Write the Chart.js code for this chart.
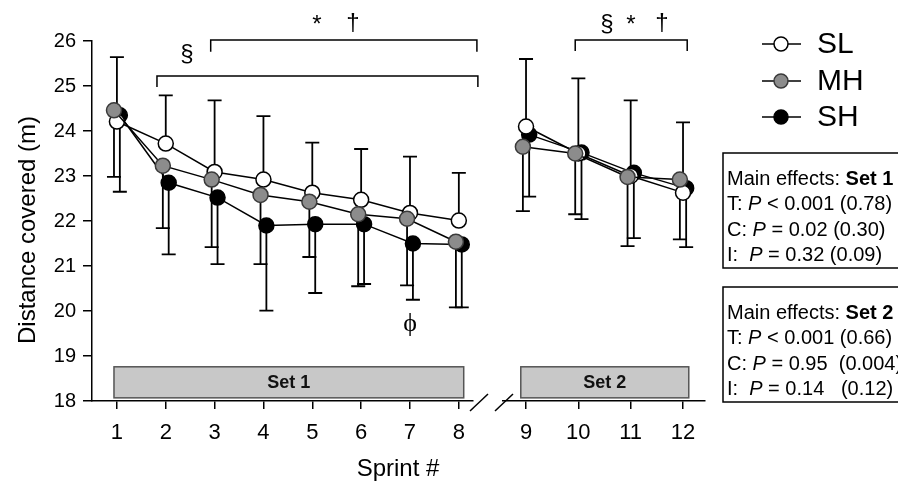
<!DOCTYPE html>
<html>
<head>
<meta charset="utf-8">
<script src="https://cdn.jsdelivr.net/npm/chart.js@4.4.1/dist/chart.umd.min.js"></script>
<style>
  body { margin: 0; background: #fff; }
  #wrap { position: relative; width: 898px; height: 483px; }
  #wrap canvas { position: absolute; left: 0; top: 0; }
</style>
</head>
<body>
<div id="wrap">
  <canvas id="set1Chart" width="898" height="483"></canvas>
  <canvas id="set2Chart" width="898" height="483"></canvas>
</div>
<script>
// Sprint numbers (set 1 = 1-8, set 2 = 9-12)
const sprints = [1, 2, 3, 4, 5, 6, 7, 8, 9, 10, 11, 12];
const yTicks = [18, 19, 20, 21, 22, 23, 24, 25, 26];

// means and SD (m)
const slMean = [24.21, 23.72, 23.09, 22.92, 22.63, 22.47, 22.18, 22.01, 24.10, 23.50, 23.00, 22.63];
const slSD   = [1.43, 1.07, 1.59, 1.41, 1.11, 1.13, 1.25, 1.06, 1.50, 1.67, 1.68, 1.56];
const mhMean = [24.46, 23.23, 22.92, 22.58, 22.43, 22.15, 22.05, 21.54, 23.65, 23.50, 22.98, 22.92];
const mhSD   = [1.48, 1.39, 1.50, 1.54, 1.23, 1.60, 1.48, 1.46, 1.43, 1.35, 1.54, 1.33];
const shMean = [24.35, 22.85, 22.52, 21.90, 21.93, 21.93, 21.50, 21.48, 23.92, 23.52, 23.07, 22.73];
const shSD   = [1.70, 1.59, 1.48, 1.89, 1.53, 1.33, 1.25, 1.40, 1.38, 1.48, 1.45, 1.31];

const effects1 = ["T: |P| < 0.001 (0.78)", "C: |P| = 0.02 (0.30)", "I:  |P| = 0.32 (0.09)"];
const effects2 = ["T: |P| < 0.001 (0.66)", "C: |P| = 0.95  (0.004)", "I:  |P| = 0.14   (0.12)"];

const FONT = "'Liberation Sans', Arial, sans-serif";
Chart.defaults.font.family = FONT;
Chart.defaults.color = "#000";

// order = drawing order (first on top)
const series = [
    { name: "MH", mean: mhMean, sd: mhSD, dir: -1, fill: "#8c8c8c", border: "#3a3a3a", shift: -0.06 },
    { name: "SL", mean: slMean, sd: slSD, dir: 1, fill: "#ffffff", border: "#000000", shift: 0 },
    { name: "SH", mean: shMean, sd: shSD, dir: -1, fill: "#000000", border: "#000000", shift: 0.06 }
];

function buildDatasets(from, to) {
    return series.map(s => ({
        label: s.name,
        errDir: s.dir,
        data: sprints.slice(from, to).map((sp, i) => ({ x: sp + s.shift, y: s.mean[from + i], sd: s.sd[from + i] })),
        borderColor: "#000",
        borderWidth: 1.5,
        pointRadius: 7.5,
        pointHoverRadius: 7.5,
        pointBackgroundColor: s.fill,
        pointBorderColor: s.border,
        pointBorderWidth: 1.5,
        fill: false,
        tension: 0
    }));
}

function drawErrorBars(chart) {
    const ctx = chart.ctx, xs = chart.scales.x, ys = chart.scales.y;
    ctx.save();
    ctx.strokeStyle = "#000";
    ctx.lineWidth = 1.8;
    chart.data.datasets.forEach(ds => {
        ds.data.forEach(p => {
            const x = xs.getPixelForValue(p.x);
            const y0 = ys.getPixelForValue(p.y);
            const y1 = ys.getPixelForValue(p.y + ds.errDir * p.sd);
            ctx.beginPath();
            ctx.moveTo(x, y0);
            ctx.lineTo(x, y1);
            ctx.moveTo(x - 7, y1);
            ctx.lineTo(x + 7, y1);
            ctx.stroke();
        });
    });
    ctx.restore();
}

function drawSetBox(chart, x1, x2, text) {
    const ctx = chart.ctx, xs = chart.scales.x, ys = chart.scales.y;
    const l = xs.getPixelForValue(x1), r = xs.getPixelForValue(x2);
    const t = ys.getPixelForValue(18.76), b = ys.getPixelForValue(18.07);
    ctx.save();
    ctx.fillStyle = "#c8c8c8";
    ctx.strokeStyle = "#555";
    ctx.lineWidth = 1.5;
    ctx.fillRect(l, t, r - l, b - t);
    ctx.strokeRect(l, t, r - l, b - t);
    ctx.fillStyle = "#111";
    ctx.font = "bold 18px " + FONT;
    ctx.textAlign = "center";
    ctx.textBaseline = "middle";
    ctx.fillText(text, (l + r) / 2, (t + b) / 2 + 1);
    ctx.restore();
}

function drawBracket(chart, x1, x2, yTop, yEnd) {
    const ctx = chart.ctx, xs = chart.scales.x, ys = chart.scales.y;
    const l = xs.getPixelForValue(x1), r = xs.getPixelForValue(x2);
    const t = ys.getPixelForValue(yTop), e = ys.getPixelForValue(yEnd);
    ctx.save();
    ctx.strokeStyle = "#000";
    ctx.lineWidth = 1.5;
    ctx.beginPath();
    ctx.moveTo(l, e); ctx.lineTo(l, t); ctx.lineTo(r, t); ctx.lineTo(r, e);
    ctx.stroke();
    ctx.restore();
}

function drawText(ctx, text, x, y, font, align) {
    ctx.save();
    ctx.fillStyle = "#000";
    ctx.font = font;
    ctx.textAlign = align || "center";
    ctx.textBaseline = "alphabetic";
    ctx.fillText(text, x, y);
    ctx.restore();
}

function drawSlash(ctx, x, y) {
    ctx.save();
    ctx.strokeStyle = "#000";
    ctx.lineWidth = 1.5;
    ctx.beginPath();
    ctx.moveTo(x - 9, y + 9);
    ctx.lineTo(x + 9, y - 8);
    ctx.stroke();
    ctx.restore();
}

// "T: |P| < ..." -> segments between bars are italic
function drawRichLine(ctx, line, x, y) {
    const parts = line.split("|");
    let cx = x;
    parts.forEach((part, i) => {
        ctx.font = (i % 2 === 1 ? "italic " : "") + "20px " + FONT;
        ctx.fillText(part, cx, y);
        cx += ctx.measureText(part).width;
    });
}

function drawEffectsBox(ctx, top, title, lines) {
    ctx.save();
    ctx.strokeStyle = "#000";
    ctx.lineWidth = 1.5;
    ctx.strokeRect(723, top, 200, 115);
    ctx.fillStyle = "#000";
    ctx.textBaseline = "alphabetic";
    ctx.textAlign = "left";
    ctx.font = "20px " + FONT;
    ctx.fillText("Main effects: ", 727, top + 32);
    const w = ctx.measureText("Main effects: ").width;
    ctx.font = "bold 20px " + FONT;
    ctx.fillText(title, 727 + w, top + 32);
    lines.forEach((ln, i) => drawRichLine(ctx, ln, 727, top + 57 + i * 25.5));
    ctx.restore();
}

function drawLegend(ctx) {
    const ys = [44, 81, 117];
    const order = ["SL", "MH", "SH"];
    ctx.save();
    order.map(n => series.find(s => s.name === n)).forEach((s, i) => {
        const y = ys[i];
        ctx.strokeStyle = "#000";
        ctx.lineWidth = 1.5;
        ctx.beginPath();
        ctx.moveTo(762, y); ctx.lineTo(801, y);
        ctx.stroke();
        ctx.beginPath();
        ctx.arc(781, y, 7, 0, Math.PI * 2);
        ctx.fillStyle = s.fill;
        ctx.fill();
        ctx.strokeStyle = s.border;
        ctx.stroke();
        ctx.fillStyle = "#000";
        ctx.font = "30px " + FONT;
        ctx.textBaseline = "middle";
        ctx.textAlign = "left";
        ctx.fillText(s.name, 817, y + 1);
    });
    ctx.restore();
}

function makeOptions(xMin, xMax, xTickVals, showY, pad) {
    return {
        responsive: false,
        animation: false,
        events: [],
        layout: { padding: pad },
        plugins: { legend: { display: false }, tooltip: { enabled: false } },
        scales: {
            x: {
                type: "linear",
                min: xMin,
                max: xMax,
                afterBuildTicks: s => { s.ticks = xTickVals.map(v => ({ value: v })); },
                afterFit: s => { s.height = 82; },
                ticks: { font: { size: 22 }, color: "#000", padding: 11, autoSkip: false, maxRotation: 0 },
                grid: { drawOnChartArea: false, tickLength: 8, color: "#000", lineWidth: 1.5 },
                border: { color: "#000", width: 1.5 }
            },
            y: {
                display: showY,
                min: 18,
                max: 26,
                afterBuildTicks: s => { s.ticks = yTicks.map(v => ({ value: v })); },
                afterFit: s => { s.width = showY ? 92 : 0; },
                ticks: { font: { size: 20 }, color: "#000", padding: 7 },
                grid: { drawOnChartArea: false, tickLength: 9, color: "#000", lineWidth: 1.5 },
                border: { color: "#000", width: 1.5 }
            }
        }
    };
}

new Chart(document.getElementById("set1Chart"), {
    type: "line",
    data: { datasets: buildDatasets(0, 8) },
    options: makeOptions(0.49, 8.29, sprints.slice(0, 8), true, { left: 0, right: 425, top: 41, bottom: 0 }),
    plugins: [{
        id: "set1Extras",
        beforeDatasetsDraw: chart => drawErrorBars(chart),
        afterDraw: chart => {
            const ctx = chart.ctx;
            drawSetBox(chart, 0.94, 8.1, "Set 1");
            drawBracket(chart, 2.92, 8.37, 26.02, 25.76);
            drawBracket(chart, 1.82, 8.39, 25.22, 24.98);
            drawText(ctx, "*", 317, 32, "24px " + FONT);
            drawText(ctx, "†", 353, 30, "24px " + FONT);
            drawText(ctx, "§", 187, 61, "24px " + FONT);
            drawText(ctx, "ϕ", 410, 331, "26px 'Liberation Serif', 'DejaVu Serif', serif");
            drawSlash(ctx, chart.chartArea.right + 6, chart.chartArea.bottom + 1);
            ctx.save();
            ctx.translate(27, 230);
            ctx.rotate(-Math.PI / 2);
            drawText(ctx, "Distance covered (m)", 0, 8, "24px " + FONT);
            ctx.restore();
        }
    }]
});

new Chart(document.getElementById("set2Chart"), {
    type: "line",
    data: { datasets: buildDatasets(8, 12) },
    options: makeOptions(8.56, 12.42, sprints.slice(8), false, { left: 503, right: 193, top: 41, bottom: 0 }),
    plugins: [{
        id: "set2Extras",
        beforeDatasetsDraw: chart => drawErrorBars(chart),
        afterDraw: chart => {
            const ctx = chart.ctx;
            drawSetBox(chart, 8.9, 12.11, "Set 2");
            drawBracket(chart, 9.94, 12.08, 26.02, 25.78);
            drawText(ctx, "§", 607, 31, "24px " + FONT);
            drawText(ctx, "*", 631, 32, "24px " + FONT);
            drawText(ctx, "†", 662, 30, "24px " + FONT);
            drawSlash(ctx, chart.chartArea.left + 1, chart.chartArea.bottom + 1);
            drawText(ctx, "Sprint #", 398, 476, "24px " + FONT);
            drawLegend(ctx);
            drawEffectsBox(ctx, 153, "Set 1", effects1);
            drawEffectsBox(ctx, 287, "Set 2", effects2);
        }
    }]
});
</script>
</body>
</html>
